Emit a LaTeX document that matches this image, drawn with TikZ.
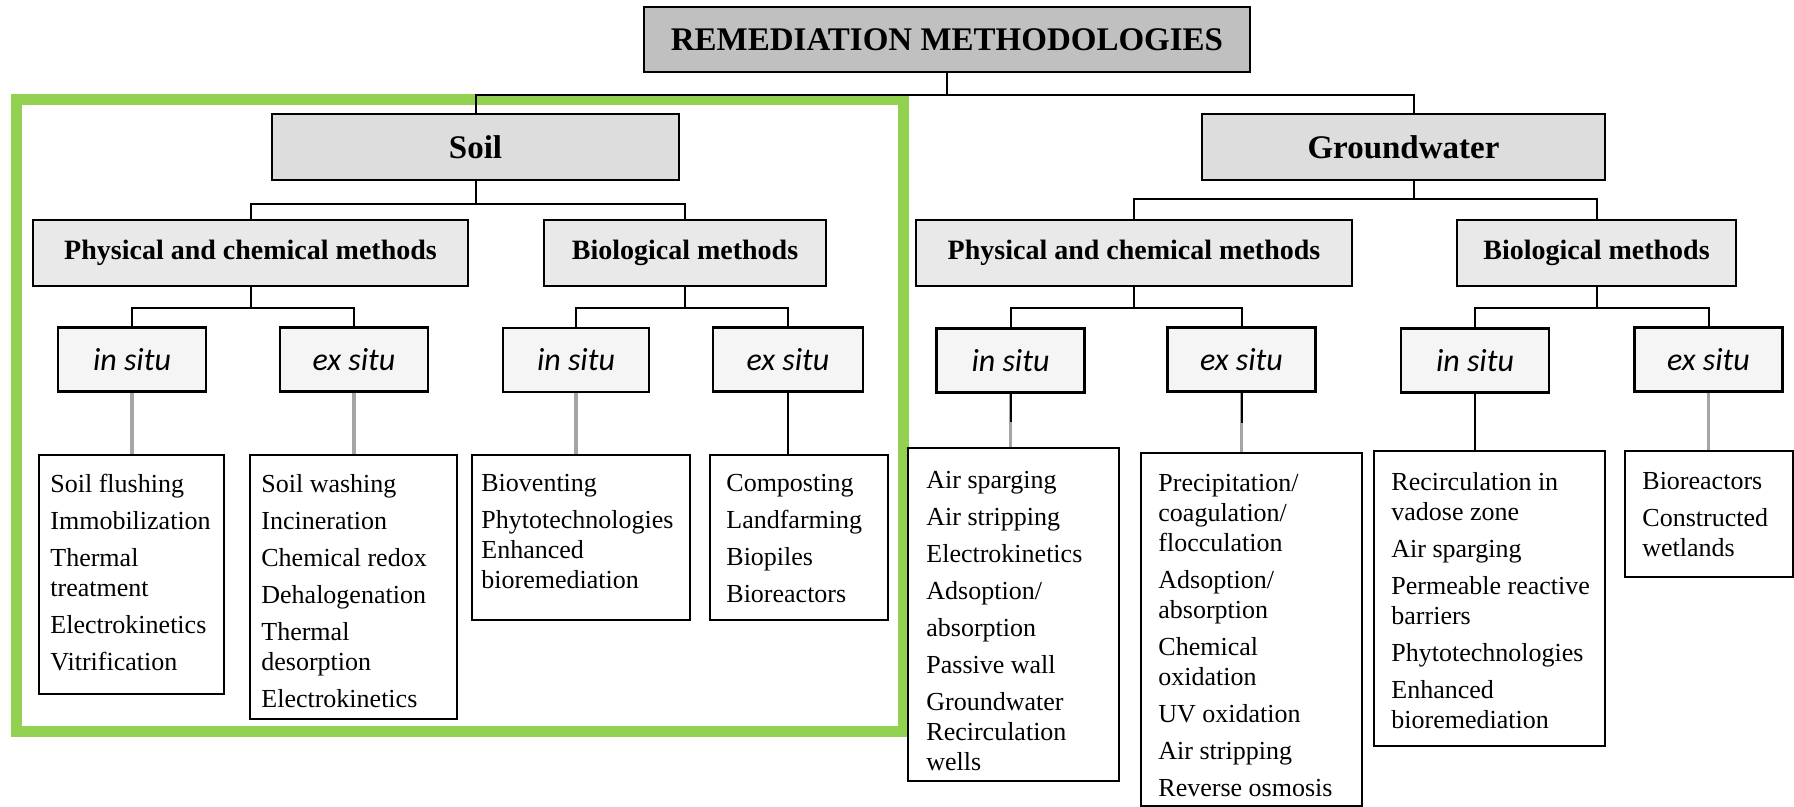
\documentclass[tikz,border=0pt]{standalone}
\usepackage{fontspec}
\setmainfont{Liberation Serif}
\newfontfamily\situfont{Carlito}
\usepackage{tikz}

\definecolor{framegreen}{RGB}{146,208,80}
\definecolor{titlegray}{RGB}{192,192,192}
\definecolor{areagray}{RGB}{221,221,221}
\definecolor{methgray}{RGB}{233,233,233}
\definecolor{situgray}{RGB}{245,245,245}
\definecolor{linkgray}{RGB}{165,165,165}

\newcommand{\nextitem}{\\[3.5pt]}

\begin{document}
\begin{tikzpicture}[x=0.5pt, y=-0.5pt,
  box/.style={draw, line width=1.2pt, inner sep=0pt, align=center},
  titlebox/.style={box, fill=titlegray, minimum height=32.5pt,
    font=\fontsize{16.5}{20}\selectfont\bfseries},
  areabox/.style={box, fill=areagray, minimum height=33pt,
    font=\fontsize{16.5}{20}\selectfont\bfseries},
  methbox/.style={box, fill=methgray, minimum height=33pt,
    font=\fontsize{14}{17}\selectfont\bfseries},
  situbox/.style={box, fill=situgray, minimum width=74pt, minimum height=32pt,
    font=\situfont\fontsize{16}{19}\selectfont\itshape},
  listbox/.style={draw, line width=1.1pt, anchor=north west, inner sep=0pt},
  listtext/.style={anchor=north west, inner sep=0pt, align=left,
    font=\fontsize{13}{15}\selectfont},
  link/.style={line width=1pt},
  greylink/.style={line width=1.6pt, draw=linkgray}]
  \useasboundingbox (0,0) rectangle (1794,807);

  % frame round the soil branch
  \draw[framegreen, line width=5.5pt] (16.5,100) rectangle (903,731.5);

  \node[titlebox, minimum width=303pt] (remed) at (947,39.5)
    {REMEDIATION METHODOLOGIES};
  \node[areabox, minimum width=203.5pt] (soil) at (475.5,147) {Soil};
  \node[areabox, minimum width=201.5pt] (water) at (1403.5,147) {Groundwater};

  \node[methbox, minimum width=217.5pt] (soilPC) at (250.5,253)
    {Physical and chemical methods};
  \node[methbox, minimum width=141pt] (soilBio) at (685,253) {Biological methods};
  \node[methbox, minimum width=218pt] (waterPC) at (1134,253)
    {Physical and chemical methods};
  \node[methbox, minimum width=139.5pt] (waterBio) at (1596.5,253)
    {Biological methods};

  \node[situbox] (soilPCin) at (132,359.5) {in situ};
  \node[situbox] (soilPCex) at (354,359.5) {ex situ};
  \node[situbox, minimum width=73pt] (soilBioIn) at (576,360) {in situ};
  \node[situbox, minimum width=75pt] (soilBioEx) at (788,359.5) {ex situ};
  \node[situbox] (waterPCin) at (1010.5,360.5) {in situ};
  \node[situbox] (waterPCex) at (1241.5,359.5) {ex situ};
  \node[situbox] (waterBioIn) at (1475,360.5) {in situ};
  \node[situbox] (waterBioEx) at (1708.5,359.5) {ex situ};

  % lists
  \node[listbox, minimum width=92.5pt, minimum height=119.5pt] (soilPCinList) at (38,454) {};
  \node[listtext] (soilPCinText) at (50,474)
    {Soil flushing\nextitem Immobilization\nextitem Thermal\\treatment\nextitem
     Electrokinetics\nextitem Vitrification};
  \node[listbox, minimum width=103.5pt, minimum height=132pt] (soilPCexList) at (249,454) {};
  \node[listtext] (soilPCexText) at (261,474)
    {Soil washing\nextitem Incineration\nextitem Chemical redox\nextitem
     Dehalogenation\nextitem Thermal\\desorption\nextitem Electrokinetics};
  \node[listbox, minimum width=109pt, minimum height=82.5pt] (soilBioInList) at (471,454) {};
  \node[listtext] (soilBioInText) at (481,474)
    {Bioventing\nextitem Phytotechnologies\\Enhanced\\bioremediation};
  \node[listbox, minimum width=89pt, minimum height=82.5pt] (soilBioExList) at (709,454) {};
  \node[listtext] (soilBioExText) at (726,474)
    {Composting\nextitem Landfarming\nextitem Biopiles\nextitem Bioreactors};

  \node[listbox, minimum width=105.5pt, minimum height=166.5pt] (waterPCinList) at (907,447) {};
  \node[listtext] (waterPCinText) at (926,471)
    {Air sparging\nextitem Air stripping\nextitem Electrokinetics\nextitem
     Adsoption/\nextitem absorption\nextitem Passive wall\nextitem
     Groundwater\\Recirculation\\wells};
  \node[listbox, minimum width=110.5pt, minimum height=176.5pt] (waterPCexList) at (1140,452) {};
  \node[listtext] (waterPCexText) at (1158,474)
    {Precipitation/\\coagulation/\\flocculation\nextitem Adsoption/\\absorption\nextitem
     Chemical\\oxidation\nextitem UV oxidation\nextitem Air stripping\nextitem
     Reverse osmosis};
  \node[listbox, minimum width=115.5pt, minimum height=147.5pt] (waterBioInList) at (1373,450) {};
  \node[listtext] (waterBioInText) at (1391,472)
    {Recirculation in\\vadose zone\nextitem Air sparging\nextitem
     Permeable reactive\\barriers\nextitem Phytotechnologies\nextitem
     Enhanced\\bioremediation};
  \node[listbox, minimum width=84pt, minimum height=63pt] (waterBioExList) at (1624,450) {};
  \node[listtext] (waterBioExText) at (1642,472)
    {Bioreactors\nextitem Constructed\\wetlands};

  % tree connectors
  \draw[link] (remed.south) -- ++(0,22) -| (soil.north);
  \draw[link] (remed.south) -- ++(0,22) -| ([xshift=5pt]water.north);
  \draw[link] (soil.south) -- ++(0,23) -| (soilPC.north);
  \draw[link] (soil.south) -- ++(0,23) -| (soilBio.north);
  \draw[link] ([xshift=5pt]water.south) -- ++(0,18) -| (waterPC.north);
  \draw[link] ([xshift=5pt]water.south) -- ++(0,18) -| (waterBio.north);
  \draw[link] (soilPC.south) -- ++(0,21) -| (soilPCin.north);
  \draw[link] (soilPC.south) -- ++(0,21) -| (soilPCex.north);
  \draw[link] (soilBio.south) -- ++(0,21) -| (soilBioIn.north);
  \draw[link] (soilBio.south) -- ++(0,21) -| (soilBioEx.north);
  \draw[link] (waterPC.south) -- ++(0,21) -| (waterPCin.north);
  \draw[link] (waterPC.south) -- ++(0,21) -| (waterPCex.north);
  \draw[link] (waterBio.south) -- ++(0,21) -| (waterBioIn.north);
  \draw[link] (waterBio.south) -- ++(0,21) -| (waterBioEx.north);

  % down to the lists
  \draw[greylink] (soilPCin.south) -- (soilPCin.south |- soilPCinList.north);
  \draw[greylink] (soilPCex.south) -- (soilPCex.south |- soilPCexList.north);
  \draw[greylink] (soilBioIn.south) -- (soilBioIn.south |- soilBioInList.north);
  \draw[link] (soilBioEx.south) -- (soilBioEx.south |- soilBioExList.north);
  \draw[greylink] (waterPCin.south) -- (waterPCin.south |- waterPCinList.north);
  \draw[link] (waterPCin.south) -- ++(0,28);
  \draw[greylink] (waterPCex.south) -- (waterPCex.south |- waterPCexList.north);
  \draw[link] (waterPCex.south) -- ++(0,30);
  \draw[link] (waterBioIn.south) -- (waterBioIn.south |- waterBioInList.north);
  \draw[greylink] (waterBioEx.south) -- (waterBioEx.south |- waterBioExList.north);
\end{tikzpicture}
\end{document}
